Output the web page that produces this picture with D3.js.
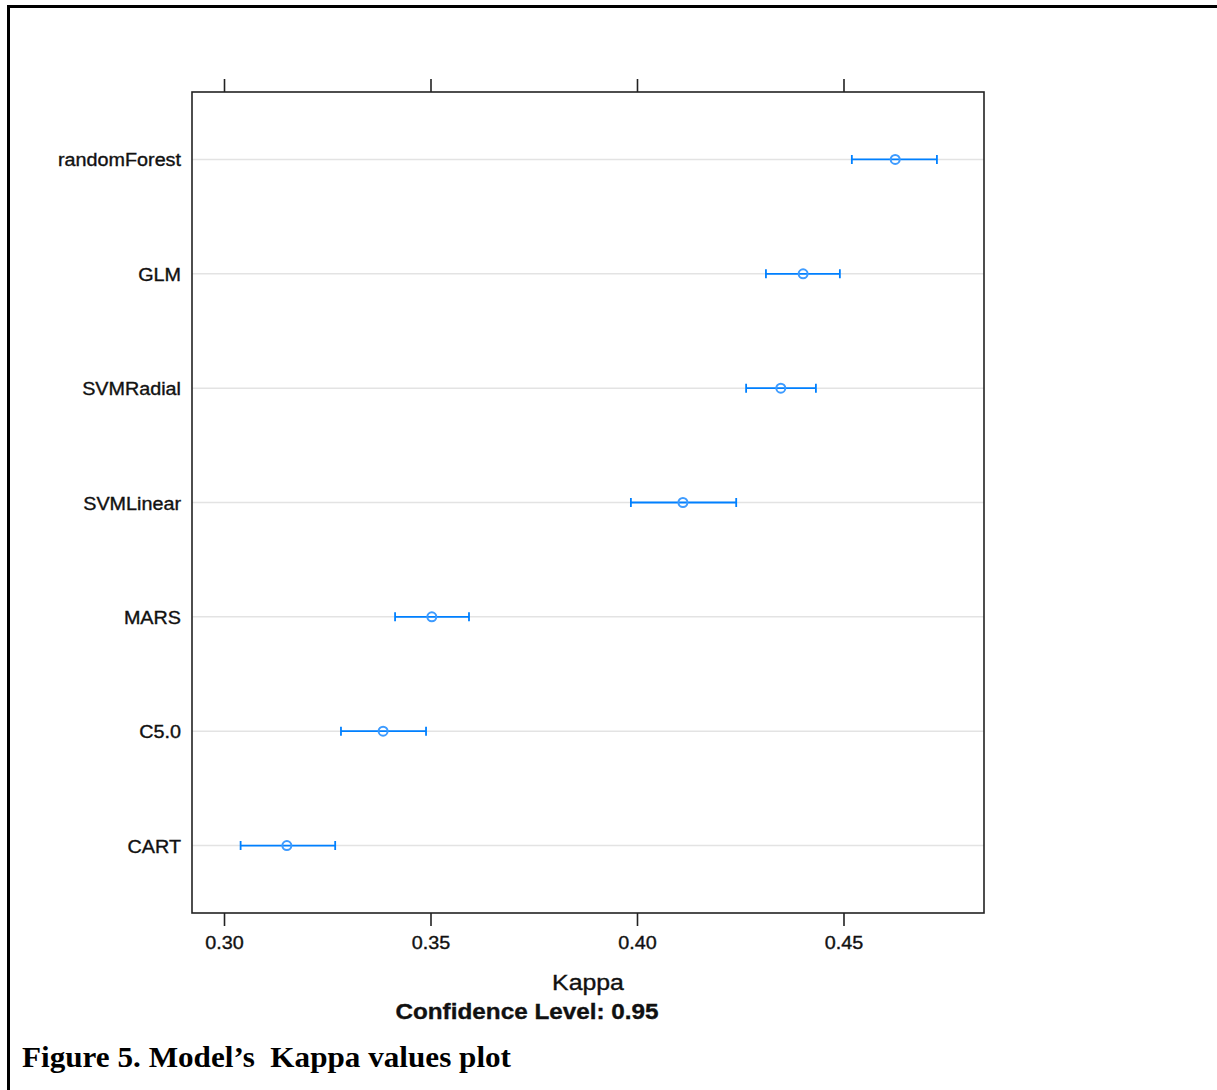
<!DOCTYPE html>
<meta charset="utf-8">
<style>
body { margin: 0; background: #fff; }
svg { display: block; }
.lab { font-family: "Liberation Sans", Arial, sans-serif; fill: #111; stroke: #111; stroke-width: 0.35px; }
.grid line { stroke: #e3e3e3; stroke-width: 1.5px; }
.bar { stroke: #0080ff; stroke-width: 1.8px; fill: none; }
.pt { stroke: #3d9bff; stroke-width: 2px; fill: none; }
.frame { stroke: #000; stroke-width: 3px; fill: none; }
.box { stroke: #222; stroke-width: 1.6px; fill: none; }
.tick { stroke: #222; stroke-width: 1.6px; }
.caption { font: bold 30px "Liberation Serif", "Times New Roman", serif; fill: #000; }
</style>
<body>
<svg width="1217" height="1090"></svg>
<script src="https://cdnjs.cloudflare.com/ajax/libs/d3/7.8.5/d3.min.js"></script>
<script>

// resampled Kappa, top to bottom
let models = ['randomForest', 'GLM', 'SVMRadial', 'SVMLinear', 'MARS', 'C5.0', 'CART'];
let kappa  = [0.4624, 0.4401, 0.4347, 0.4110, 0.3502, 0.3384, 0.3151];
let lower  = [0.4519, 0.4311, 0.4263, 0.3984, 0.3413, 0.3282, 0.3039];
let upper  = [0.4725, 0.4490, 0.4432, 0.4239, 0.3592, 0.3488, 0.3268];
let ticks  = [0.30, 0.35, 0.40, 0.45];

let svg = d3.select('svg');

let box = {left: 192, top: 92, right: 984, bottom: 913};
let sx = 1.13; // the reference text is a bit stretched sideways

let x = d3.scaleLinear()
  .domain([0.29213, 0.4839])
  .range([box.left, box.right]);

let y = d3.scalePoint()
  .domain(models)
  .range([box.top, box.bottom])
  .padding(0.59);

function label(g, str, tx, ty, size, anchor, weight) {
  return g.append('text')
    .attr('class', 'lab')
    .attr('transform', 'translate(' + tx + ',' + ty + ') scale(' + sx + ',1)')
    .attr('text-anchor', anchor)
    .style('font-size', size + 'px')
    .style('font-weight', weight || 'normal')
    .text(str);
}

// outer frame (only top and left edges show)
svg.append('path')
  .attr('class', 'frame')
  .attr('d', 'M8.5,1090 V6.5 H1217');

// grid
svg.append('g').attr('class', 'grid')
  .selectAll('line')
  .data(models)
  .join('line')
  .attr('x1', box.left).attr('x2', box.right)
  .attr('y1', d => y(d)).attr('y2', d => y(d));

// ticks top and bottom
let tk = svg.append('g');
ticks.forEach(function(t) {
  tk.append('line').attr('class', 'tick')
    .attr('x1', x(t)).attr('x2', x(t))
    .attr('y1', box.top).attr('y2', box.top - 13);
  tk.append('line').attr('class', 'tick')
    .attr('x1', x(t)).attr('x2', x(t))
    .attr('y1', box.bottom).attr('y2', box.bottom + 13);
  label(tk, d3.format('.2f')(t), x(t), 949, 17.5, 'middle');
});

// model names
let yl = svg.append('g');
models.forEach(function(m) {
  label(yl, m, 181, y(m) + 7, 17.5, 'end');
});

// intervals
let bars = svg.append('g');
models.forEach(function(m, i) {
  let cy = y(m);
  bars.append('path').attr('class', 'bar')
    .attr('d', 'M' + x(lower[i]) + ',' + cy + 'H' + x(upper[i]) +
      'M' + x(lower[i]) + ',' + (cy - 4.5) + 'V' + (cy + 4.5) +
      'M' + x(upper[i]) + ',' + (cy - 4.5) + 'V' + (cy + 4.5));
  bars.append('circle').attr('class', 'pt')
    .attr('cx', x(kappa[i])).attr('cy', cy).attr('r', 4.5);
});

// plot box
svg.append('rect').attr('class', 'box')
  .attr('x', box.left).attr('y', box.top)
  .attr('width', box.right - box.left).attr('height', box.bottom - box.top);

// axis title
label(svg, 'Kappa', 588, 990, 22, 'middle');
label(svg, 'Confidence Level: 0.95', 527, 1019, 21.5, 'middle', 'bold');

// caption
svg.append('text')
  .attr('class', 'caption')
  .attr('x', 22).attr('y', 1067)
  .attr('textLength', 489)
  .attr('lengthAdjust', 'spacingAndGlyphs')
  .style('white-space', 'pre')
  .text('Figure 5. Model\u2019s  Kappa values plot');

</script>
</body>
